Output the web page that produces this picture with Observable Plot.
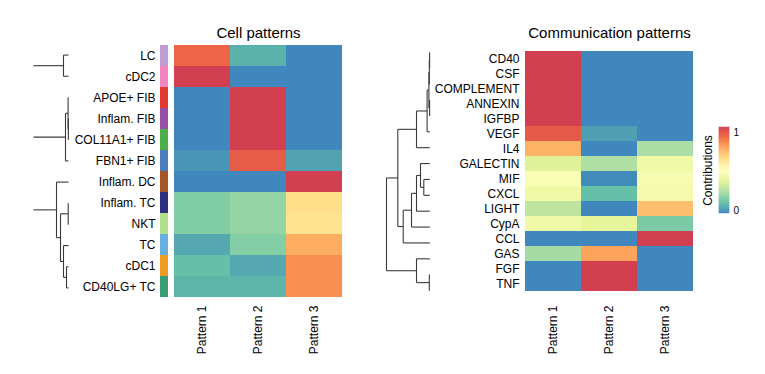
<!DOCTYPE html>
<html>
<head>
<meta charset="utf-8">
<script src="https://cdn.jsdelivr.net/npm/d3@7"></script>
<script src="https://cdn.jsdelivr.net/npm/@observablehq/plot@0.6"></script>
<style>
  body { margin: 0; background: white; }
  #chart { position: relative; width: 765px; height: 374px; background: white; font-family: "Liberation Sans", Arial, sans-serif; }
</style>
</head>
<body>
<div id="chart"></div>
<script>
// ---------------- data ----------------
const patterns = ["Pattern 1", "Pattern 2", "Pattern 3"];

const cellRows = ["LC", "cDC2", "APOE+ FIB", "Inflam. FIB", "COL11A1+ FIB", "FBN1+ FIB",
  "Inflam. DC", "Inflam. TC", "NKT", "TC", "cDC1", "CD40LG+ TC"];
const cellColors = ["#bf9fd0", "#f285c0", "#e03b2e", "#984ea3", "#4daf4a", "#4a7dbb",
  "#a65628", "#2d2f7f", "#b2df8a", "#66b0e0", "#ee9a23", "#3a9e75"];
const cellP1 = [0.9, 1, 0, 0, 0, 0.03, 0, 0.17, 0.17, 0.07, 0.12, 0.1];
const cellP2 = [0.09, 0, 1, 1, 1, 0.92, 0, 0.21, 0.21, 0.18, 0.07, 0.1];
const cellP3 = [0, 0, 0, 0, 0, 0.06, 1, 0.63, 0.61, 0.75, 0.81, 0.81];

const commRows = ["CD40", "CSF", "COMPLEMENT", "ANNEXIN", "IGFBP", "VEGF", "IL4", "GALECTIN",
  "MIF", "CXCL", "LIGHT", "CypA", "CCL", "GAS", "FGF", "TNF"];
const commP1 = [1, 1, 1, 1, 1, 0.93, 0.74, 0.36, 0.47, 0.42, 0.29, 0.42, 0, 0.24, 0, 0];
const commP2 = [0, 0, 0, 0, 0, 0.05, 0, 0.26, 0.01, 0.12, 0, 0.38, 0, 0.77, 1, 1];
const commP3 = [0, 0, 0, 0, 0, 0, 0.25, 0.42, 0.45, 0.44, 0.71, 0.16, 1, 0, 0, 0];

// dendrograms: [mergeHeight, left, right]
const cellTrees = [
  [5, "LC", "cDC2"],
  [3, [0.4, "APOE+ FIB", [0.15, "Inflam. FIB", "COL11A1+ FIB"]], "FBN1+ FIB"],
  [12, "Inflam. DC", [8, [0.3, "Inflam. TC", "NKT"], [5, "TC", [2, "cDC1", "CD40LG+ TC"]]]]
];
const cellRootHeight = 35;
const commTree = [43.3,
  [32,
    [13.3, [2.7, [0.9, [0.5, [0.2, "CD40", "CSF"], "COMPLEMENT"], [0.2, "ANNEXIN", "IGFBP"]], "VEGF"], "IL4"],
    [26.6, [18.3, [13.3, [9.3, "GALECTIN", [6, "MIF", "CXCL"]], "LIGHT"], "CypA"], "CCL"]],
  [13.3, "GAS", [0.5, "FGF", "TNF"]]
];
const commRootHeight = 43.3;

const legendTicks = [0, 1];
const spectral = ["#3f87bd", "#66c2a5", "#abdda4", "#e6f598", "#ffffbf", "#fee08b", "#fdae61", "#f46d43", "#d13f50"];

// ---------------- helpers ----------------
const W = 765, H = 374;
const FONT = '"Liberation Sans", Arial, sans-serif';
const interp = d3.piecewise(d3.interpolateRgb, spectral);
const colorScale = {type: "linear", domain: [0, 1], interpolate: (t) => interp(t)};
const baseStyle = {background: "transparent", position: "absolute", left: "0px", top: "0px",
  overflow: "visible", fontFamily: FONT, fontSize: "12px", color: "#000"};

function longData(rows, p1, p2, p3) {
  const out = [];
  rows.forEach((r, i) => {
    out.push({row: r, pattern: patterns[0], value: p1[i]});
    out.push({row: r, pattern: patterns[1], value: p2[i]});
    out.push({row: r, pattern: patterns[2], value: p3[i]});
  });
  return out;
}

function dendroSegments(trees, rows, rootHeight) {
  const segs = [];
  const idx = new Map(rows.map((r, i) => [r, i]));
  function walk(n) {
    if (typeof n === "string") return {y: idx.get(n) + 0.5, h: 0};
    const [h, a, b] = n;
    const A = walk(a), B = walk(b);
    segs.push({x1: h, x2: h, y1: A.y, y2: B.y});
    segs.push({x1: h, x2: A.h, y1: A.y, y2: A.y});
    segs.push({x1: h, x2: B.h, y1: B.y, y2: B.y});
    return {y: (A.y + B.y) / 2, h};
  }
  for (const t of trees) {
    const r = walk(t);
    if (rootHeight > r.h) segs.push({x1: rootHeight, x2: r.h, y1: r.y, y2: r.y});
  }
  return segs;
}

const chart = document.getElementById("chart");
function add(p) { chart.appendChild(p); }

const yTop = 44, yBottom = 298;

// ---------------- left panel ----------------
add(Plot.plot({
  width: W, height: H,
  marginLeft: 33, marginRight: W - 68, marginTop: yTop, marginBottom: H - yBottom,
  style: baseStyle,
  x: {domain: [cellRootHeight, 0], axis: null},
  y: {domain: [0, cellRows.length], reverse: true, axis: null},
  marks: [
    Plot.link(dendroSegments(cellTrees, cellRows, cellRootHeight),
      {x1: "x1", x2: "x2", y1: "y1", y2: "y2", stroke: "#3a3a3a", strokeWidth: 1.1})
  ]
}));

add(Plot.plot({
  width: W, height: H,
  marginLeft: 160, marginRight: W - 168, marginTop: yTop, marginBottom: H - yBottom,
  style: baseStyle,
  x: {domain: ["a"], axis: null, padding: 0},
  y: {domain: cellRows, axis: null, padding: 0},
  color: {type: "identity"},
  marks: [
    Plot.cell(cellRows.map((r, i) => ({row: r, c: cellColors[i]})),
      {x: () => "a", y: "row", fill: "c"})
  ]
}));

add(Plot.plot({
  width: W, height: H,
  marginLeft: 173, marginRight: W - 343, marginTop: yTop, marginBottom: H - yBottom,
  style: baseStyle,
  x: {domain: patterns, padding: 0, tickRotate: -90, tickSize: 0, tickPadding: 7, label: null},
  y: {domain: cellRows, padding: 0, tickSize: 0, tickPadding: 18, label: null},
  color: colorScale,
  marks: [
    Plot.cell(longData(cellRows, cellP1, cellP2, cellP3), {x: "pattern", y: "row", fill: "value"}),
    Plot.text(["Cell patterns"], {text: d => d, frameAnchor: "top", dy: -17, fontSize: 15})
  ]
}));

// ---------------- right panel ----------------
add(Plot.plot({
  width: W, height: H,
  marginLeft: 386, marginRight: W - 429.3, marginTop: yTop, marginBottom: H - yBottom,
  style: baseStyle,
  x: {domain: [commRootHeight, 0], axis: null},
  y: {domain: [0, commRows.length], reverse: true, axis: null},
  marks: [
    Plot.link(dendroSegments([commTree], commRows, 0),
      {x1: "x1", x2: "x2", y1: "y1", y2: "y2", stroke: "#3a3a3a", strokeWidth: 1.1})
  ]
}));

add(Plot.plot({
  width: W, height: H,
  marginLeft: 524, marginRight: W - 694, marginTop: yTop, marginBottom: H - yBottom,
  style: baseStyle,
  x: {domain: patterns, padding: 0, tickRotate: -90, tickSize: 0, tickPadding: 7, label: null},
  y: {domain: commRows, padding: 0, tickSize: 0, tickPadding: 5, label: null},
  color: colorScale,
  marks: [
    Plot.cell(longData(commRows, commP1, commP2, commP3), {x: "pattern", y: "row", fill: "value"}),
    Plot.text(["Communication patterns"], {text: d => d, frameAnchor: "top", dy: -17, fontSize: 15})
  ]
}));

// ---------------- legend ----------------
const steps = d3.range(120).map(i => ({a: i / 120, b: (i + 1) / 120}));
add(Plot.plot({
  width: W, height: H,
  marginLeft: 719, marginRight: W - 729, marginTop: 127, marginBottom: H - 213,
  style: baseStyle,
  x: {domain: [0, 1], axis: null},
  y: {domain: [0, 1], axis: null},
  color: colorScale,
  marks: [
    Plot.rect(steps, {x1: () => 0, x2: () => 1, y1: "a", y2: "b",
      fill: d => (d.a + d.b) / 2, stroke: d => (d.a + d.b) / 2, strokeWidth: 0.5}),
    Plot.text(legendTicks.filter(v => v === 1), {x: () => 1, y: d => d, text: d => String(d),
      textAnchor: "start", dx: 4, dy: 5, fontSize: 10}),
    Plot.text(legendTicks.filter(v => v === 0), {x: () => 1, y: d => d, text: d => String(d),
      textAnchor: "start", dx: 4, dy: -3, fontSize: 10}),
    Plot.text(["Contributions"], {text: d => d, frameAnchor: "left", textAnchor: "middle",
      rotate: -90, dx: -11, fontSize: 12})
  ]
}));
</script>
</body>
</html>
